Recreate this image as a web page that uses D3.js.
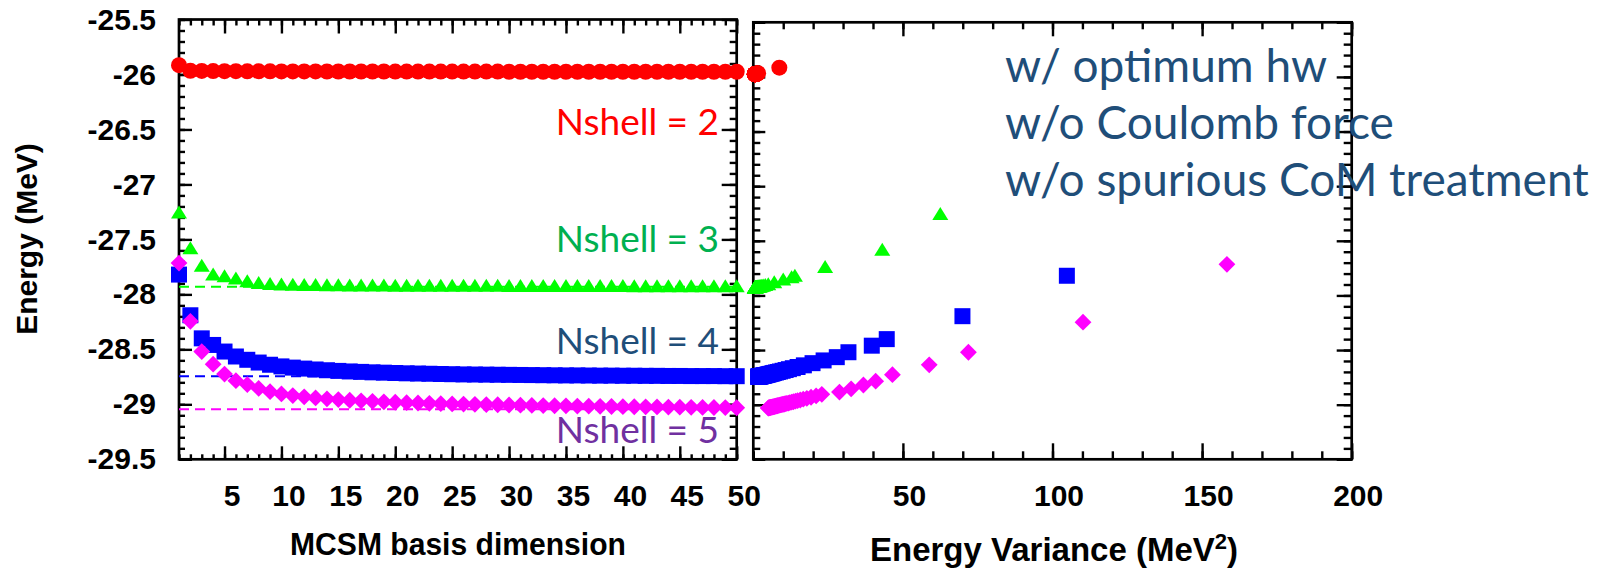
<!DOCTYPE html>
<html><head><meta charset="utf-8">
<script src="https://cdn.jsdelivr.net/npm/d3@7"></script>
<style>
html,body{margin:0;padding:0;background:#fff;}
svg{display:block;}
</style></head><body>
<svg id="chart" width="1617" height="572"></svg>
<script>
// ---- data -------------------------------------------------------------
// MCSM basis dimension (x of the left panel)
const basisDim = [1,2,3,4,5,6,7,8,9,10,11,12,13,14,15,16,17,18,19,20,
  21,22,23,24,25,26,27,28,29,30,31,32,33,34,35,36,37,38,39,40,
  41,42,43,44,45,46,47,48,49,50];

// Energies (MeV) for each basis dimension
const energyN2 = [-25.915,-25.966,-25.968,-25.969,-25.970,-25.970,-25.971,-25.971,-25.971,-25.972,
  -25.972,-25.972,-25.972,-25.973,-25.973,-25.973,-25.973,-25.973,-25.973,-25.974,
  -25.974,-25.974,-25.974,-25.974,-25.974,-25.974,-25.974,-25.974,-25.974,-25.975,
  -25.975,-25.975,-25.975,-25.975,-25.975,-25.975,-25.975,-25.975,-25.975,-25.975,
  -25.975,-25.975,-25.975,-25.975,-25.975,-25.975,-25.975,-25.975,-25.975,-25.975];
const energyN3 = [-27.250,-27.577,-27.736,-27.815,-27.830,-27.850,-27.875,-27.893,-27.900,-27.905,
  -27.908,-27.910,-27.911,-27.912,-27.913,-27.914,-27.914,-27.915,-27.915,-27.916,
  -27.916,-27.916,-27.917,-27.917,-27.917,-27.918,-27.918,-27.918,-27.918,-27.919,
  -27.919,-27.919,-27.919,-27.919,-27.920,-27.920,-27.920,-27.920,-27.920,-27.920,
  -27.921,-27.921,-27.921,-27.921,-27.921,-27.921,-27.922,-27.922,-27.922,-27.922];
const energyN4 = [-27.820,-28.190,-28.400,-28.460,-28.520,-28.565,-28.595,-28.620,-28.640,-28.655,
  -28.666,-28.675,-28.683,-28.690,-28.696,-28.701,-28.705,-28.709,-28.712,-28.715,
  -28.718,-28.720,-28.722,-28.724,-28.726,-28.728,-28.729,-28.730,-28.731,-28.732,
  -28.733,-28.734,-28.735,-28.736,-28.737,-28.737,-28.738,-28.739,-28.739,-28.740,
  -28.740,-28.741,-28.741,-28.742,-28.742,-28.743,-28.743,-28.743,-28.744,-28.744];
const energyN5 = [-27.715,-28.245,-28.520,-28.635,-28.725,-28.785,-28.820,-28.855,-28.885,-28.905,
  -28.920,-28.932,-28.942,-28.950,-28.957,-28.963,-28.968,-28.973,-28.977,-28.981,
  -28.985,-28.988,-28.991,-28.994,-28.996,-28.998,-29.000,-29.002,-29.004,-29.006,
  -29.008,-29.010,-29.011,-29.013,-29.014,-29.016,-29.017,-29.018,-29.020,-29.021,
  -29.022,-29.023,-29.024,-29.025,-29.026,-29.027,-29.028,-29.029,-29.030,-29.031];

// Energy variances (MeV^2) of the same states
const varianceN2 = [8.7,1.6,1.4,1.3,1.2,1.1,1.1,1.0,1.0,1.0,
  0.9,0.9,0.9,0.9,0.9,0.8,0.8,0.8,0.8,0.8,
  0.8,0.8,0.7,0.7,0.7,0.7,0.7,0.7,0.7,0.7,
  0.6,0.6,0.6,0.6,0.6,0.6,0.6,0.6,0.6,0.6,
  0.5,0.5,0.5,0.5,0.5,0.5,0.5,0.5,0.5,0.5];
const varianceN3 = [62.5,43.1,24.0,13.9,12.8,10.0,7.0,5.0,4.0,3.3,
  2.9,2.6,2.4,2.2,2.0,1.9,1.8,1.7,1.6,1.5,
  1.4,1.4,1.3,1.3,1.2,1.2,1.1,1.1,1.0,1.0,
  1.0,0.9,0.9,0.9,0.8,0.8,0.8,0.8,0.7,0.7,
  0.7,0.7,0.6,0.6,0.6,0.6,0.5,0.5,0.5,0.5];
const varianceN4 = [104.8,69.9,44.6,39.6,31.8,27.9,23.5,19.8,16.9,14.8,
  13.2,11.9,10.8,9.8,8.9,8.2,7.6,7.0,6.6,6.2,
  5.8,5.5,5.2,4.9,4.6,4.4,4.2,4.0,3.8,3.6,
  3.5,3.3,3.2,3.0,2.9,2.8,2.7,2.6,2.5,2.4,
  2.3,2.2,2.1,2.0,1.9,1.9,1.8,1.7,1.7,1.6];
const varianceN5 = [158.3,110.2,71.9,58.8,46.5,40.9,36.8,32.7,28.8,22.9,
  21.0,19.3,17.9,16.7,15.7,14.8,14.1,13.4,12.8,12.2,
  11.7,11.2,10.8,10.4,10.0,9.7,9.4,9.1,8.8,8.5,
  8.2,8.0,7.8,7.6,7.4,7.2,7.0,6.8,6.6,6.4,
  6.3,6.1,5.9,5.8,5.6,5.5,5.3,5.2,5.1,5.0];

// Extrapolated energies (dashed lines)
const extrapN3 = -27.93;
const extrapN4 = -28.745;
const extrapN5 = -29.045;

// Tick labels
const energyTicks = [-29.5,-29,-28.5,-28,-27.5,-27,-26.5,-26,-25.5];
const energyTickLabels = ["-29.5","-29","-28.5","-28","-27.5","-27","-26.5","-26","-25.5"];
const dimTicks = [5,10,15,20,25,30,35,40,45,50];
const varTicks = [50,100,150,200];

const notes = ["w/ optimum hw", "w/o Coulomb force", "w/o spurious CoM treatment"];

// ---- layout -----------------------------------------------------------
const svg = d3.select("#chart");
const FONT = "'Liberation Sans', Arial, Helvetica, sans-serif";
const TEXT_FONT = "Lato, 'Open Sans', sans-serif";

const leftBox  = {x0: 179,   x1: 736.7,  y0: 19.5, y1: 459.3};
const rightBox = {x0: 753.3, x1: 1351.7, y0: 22.3, y1: 459.3};

const xL = d3.scaleLinear().domain([1, 50]).range([leftBox.x0, leftBox.x1]);
const yL = d3.scaleLinear().domain([-29.5, -25.5]).range([leftBox.y1, leftBox.y0]);
const xR = d3.scaleLinear().domain([0, 200]).range([rightBox.x0, rightBox.x1]);
const yR = d3.scaleLinear().domain([-29.5, -25.5]).range([rightBox.y1, rightBox.y0]);

const minorE = d3.range(0, 41).map(i => -29.5 + i * 0.1);
const minorDim = d3.range(1, 51);
const minorVar = d3.range(0, 201, 10);

function tickGroup(axis, values, size, transform, fmt, pad) {
  const a = axis.tickValues(values).tickSize(-size).tickPadding(pad || 0)
    .tickFormat(fmt || (() => ""));
  const g = svg.append("g").attr("transform", transform).call(a);
  g.select(".domain").remove();
  g.selectAll(".tick line").attr("stroke", "#000").attr("stroke-width", 2.4);
  g.selectAll(".tick text")
    .attr("font-family", FONT).attr("font-weight", "bold")
    .attr("font-size", 30).attr("fill", "#000");
  return g;
}

// left panel ticks (all pointing inward)
tickGroup(d3.axisLeft(yL), minorE, 6, `translate(${leftBox.x0},0)`);
tickGroup(d3.axisLeft(yL), energyTicks, 13, `translate(${leftBox.x0},0)`,
  (d, i) => energyTickLabels[i], 23);
tickGroup(d3.axisRight(yL), minorE, 7, `translate(${leftBox.x1},0)`);
tickGroup(d3.axisRight(yL), energyTicks, 15, `translate(${leftBox.x1},0)`);
tickGroup(d3.axisBottom(xL), minorDim, 5, `translate(0,${leftBox.y1})`);
tickGroup(d3.axisBottom(xL), dimTicks, 13, `translate(0,${leftBox.y1})`, d => d, 25)
  .selectAll(".tick text").attr("dx", 7);
tickGroup(d3.axisTop(xL), minorDim, 6, `translate(0,${leftBox.y0})`);
tickGroup(d3.axisTop(xL), dimTicks, 14, `translate(0,${leftBox.y0})`);

// right panel ticks
tickGroup(d3.axisLeft(yR), minorE, 7, `translate(${rightBox.x0},0)`);
tickGroup(d3.axisLeft(yR), energyTicks, 12, `translate(${rightBox.x0},0)`);
tickGroup(d3.axisRight(yR), minorE, 8, `translate(${rightBox.x1},0)`);
tickGroup(d3.axisRight(yR), energyTicks, 15, `translate(${rightBox.x1},0)`);
tickGroup(d3.axisBottom(xR), minorVar, 8, `translate(0,${rightBox.y1})`);
tickGroup(d3.axisBottom(xR), varTicks, 16, `translate(0,${rightBox.y1})`, d => d, 25)
  .selectAll(".tick text").attr("dx", 6);
tickGroup(d3.axisTop(xR), minorVar, 7, `translate(0,${rightBox.y0})`);
tickGroup(d3.axisTop(xR), varTicks, 14, `translate(0,${rightBox.y0})`);

// frames
[leftBox, rightBox].forEach(b => {
  svg.append("rect").attr("x", b.x0).attr("y", b.y0)
    .attr("width", b.x1 - b.x0).attr("height", b.y1 - b.y0)
    .attr("fill", "none").attr("stroke", "#000").attr("stroke-width", 2.7);
});

// ---- marker shapes ----------------------------------------------------
const triangleShape = { draw(ctx) { const w = 16, h = 13;
  ctx.moveTo(0, -h / 2); ctx.lineTo(w / 2, h / 2); ctx.lineTo(-w / 2, h / 2); ctx.closePath(); } };
const diamondShape = { draw(ctx) { const r = 8.4;
  ctx.moveTo(0, -r); ctx.lineTo(r, 0); ctx.lineTo(0, r); ctx.lineTo(-r, 0); ctx.closePath(); } };

const series = [
  {energy: energyN2, variance: varianceN2, color: "#ff0000", shape: d3.symbol(d3.symbolCircle, 201)},
  {energy: energyN3, variance: varianceN3, color: "#00ff00", shape: d3.symbol(triangleShape)},
  {energy: energyN4, variance: varianceN4, color: "#0000ff", shape: d3.symbol(d3.symbolSquare, 256)},
  {energy: energyN5, variance: varianceN5, color: "#ff00ff", shape: d3.symbol(diamondShape)}
];

// extrapolated values as dashed lines across the left panel
[[extrapN3, "#00ff00"], [extrapN4, "#0000ff"], [extrapN5, "#ff00ff"]].forEach(([e, c]) => {
  svg.append("line")
    .attr("x1", leftBox.x0).attr("x2", leftBox.x1)
    .attr("y1", yL(e)).attr("y2", yL(e))
    .attr("stroke", c).attr("stroke-width", 2).attr("stroke-dasharray", "10,6");
});

// markers
series.forEach(s => {
  const pts = basisDim.map((d, i) => ({dim: d, e: s.energy[i], v: s.variance[i]}));
  svg.append("g").selectAll("path").data(pts).join("path")
    .attr("d", s.shape)
    .attr("transform", d => `translate(${xL(d.dim)},${yL(d.e)})`)
    .attr("fill", s.color);
  svg.append("g").selectAll("path").data(pts).join("path")
    .attr("d", s.shape)
    .attr("transform", d => `translate(${xR(d.v)},${yR(d.e)})`)
    .attr("fill", s.color);
});

// ---- text -------------------------------------------------------------
const shellLabels = [
  {text: "Nshell = 2", y: 135, color: "#ff0000"},
  {text: "Nshell = 3", y: 252, color: "#00b050"},
  {text: "Nshell = 4", y: 354, color: "#1f4e79"},
  {text: "Nshell = 5", y: 443, color: "#7030a0"}
];
svg.append("g").selectAll("text").data(shellLabels).join("text")
  .attr("x", 719).attr("y", d => d.y)
  .attr("text-anchor", "end")
  .attr("font-family", TEXT_FONT).attr("font-size", 37)
  .attr("fill", d => d.color)
  .text(d => d.text);

svg.append("g").selectAll("text").data(notes).join("text")
  .attr("x", 1005).attr("y", (d, i) => 82 + i * 57)
  .attr("font-family", TEXT_FONT).attr("font-size", 46)
  .attr("fill", "#1f4e79")
  .text(d => d);

// axis titles
function title(x, y, rot, size, sx) {
  return svg.append("text")
    .attr("transform", `translate(${x},${y}) rotate(${rot}) scale(${sx || 1},1)`)
    .attr("text-anchor", "middle")
    .attr("font-family", FONT).attr("font-weight", "bold")
    .attr("font-size", size).attr("fill", "#000");
}
title(37, 239, -90, 30).text("Energy (MeV)");
title(458, 555, 0, 32, 0.94).text("MCSM basis dimension");
const vt = title(1054, 561, 0, 33);
vt.append("tspan").text("Energy Variance (MeV");
vt.append("tspan").attr("baseline-shift", "super").attr("font-size", 22).text("2");
vt.append("tspan").text(")");
</script>
</body></html>
